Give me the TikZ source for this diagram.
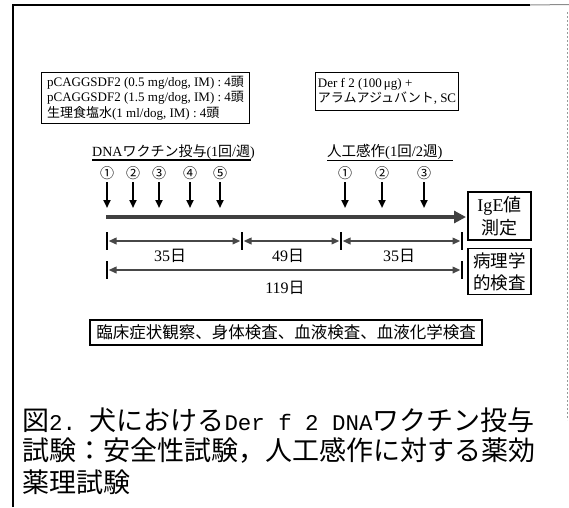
\documentclass[tikz,border=0pt]{standalone}
\usepackage{fontspec}
\setmainfont{Liberation Serif}
\newfontfamily\cjk{Noto Sans CJK JP}
\newfontfamily\capmono[Scale=0.83]{Liberation Mono}
\usetikzlibrary{arrows.meta}
\tikzset{
  box/.style={draw=black, line width=1.1pt, inner sep=2pt},
  lbl/.style={inner sep=0pt},
  darr/.style={line width=2.2pt, -{Triangle[length=8pt,width=7pt]}},
  bigarr/.style={line width=4.5pt, black!75, -{Triangle[length=12pt,width=12pt]}},
  spanarr/.style={line width=2pt, black!72, {Triangle[length=8pt,width=6.5pt]}-{Triangle[length=8pt,width=6.5pt]}, shorten <=1.5pt, shorten >=1.5pt},
  tickline/.style={line width=1.8pt, black},
  uline/.style={line width=1.4pt, black},
  circnum/.style={inner sep=1pt, font=\cjk\fontsize{14}{14}\selectfont},
  daylbl/.style={inner sep=0pt, font=\fontsize{16}{16}\selectfont},
}
\begin{document}
\begin{tikzpicture}[x=1pt,y=-1pt]
\useasboundingbox (0,0) rectangle (569,507);
% frame
\coordinate (fbl) at (13,507);
\coordinate (ftl) at (13,5);
\coordinate (ftr) at (530,5);
\coordinate (ftr2) at (569,4.5);
\coordinate (frt) at (567,12);
\coordinate (frb) at (567,420);
\draw[line width=1.6pt] (fbl) -- (ftl) -- (ftr);
\draw[line width=1pt, black!45] (ftr) -- (ftr2);
\draw[line width=1pt, black!40, dash pattern=on 2pt off 2pt] (frt) -- (frb);

% top boxes
\node[box, anchor=north west, minimum width=208pt, minimum height=51pt, align=left,
      inner sep=1pt, font=\fontsize{13}{15.5}\selectfont] (grp) at (41,72)
 {pCAGGSDF2 (0.5 mg/dog, IM) : 4{\cjk 頭}\\
  pCAGGSDF2 (1.5 mg/dog, IM) : 4{\cjk 頭}\\
  {\cjk 生理食塩水}(1 ml/dog, IM) : 4{\cjk 頭}};
\node[box, anchor=north west, minimum width=143pt, minimum height=38pt, align=left,
      inner sep=1pt, font=\fontsize{13}{15.5}\selectfont] (der) at (315,72)
 {Der f 2 (100\,μg) +\\
  {\cjk アラムアジュバント}, SC};

% section labels
\node[lbl, anchor=base west, font=\fontsize{14}{14}\selectfont] (dna) at (92,156)
 {DNA{\cjk ワクチン投与}(1{\cjk 回}/{\cjk 週})};
\coordinate (u1a) at (92,160);
\coordinate (u1b) at (251,160);
\draw[uline] (u1a) -- (u1b);
\node[lbl, anchor=base west, font=\fontsize{14.5}{14.5}\selectfont] (sens) at (327,156)
 {{\cjk 人工感作}(1{\cjk 回}/2{\cjk 週})};
\coordinate (u2a) at (327,160.5);
\coordinate (u2b) at (453,160.5);
\draw[uline] (u2a) -- (u2b);

% circled numbers and arrows
\node[circnum] (d1) at (107,173) {①};
\node[circnum] (d2) at (133,173) {②};
\node[circnum] (d3) at (159,173) {③};
\node[circnum] (d4) at (190,173) {④};
\node[circnum] (d5) at (220,173) {⑤};
\node[circnum] (s1) at (345,173) {①};
\node[circnum] (s2) at (382,173) {②};
\node[circnum] (s3) at (424,173) {③};
\foreach \n/\x in {d1/107,d2/133,d3/159,d4/190,d5/220,s1/345,s2/382,s3/424}{
  \coordinate (\n e) at (\x,208);
  \draw[darr] (\x,182) -- (\n e);
}

% main timeline
\coordinate (tls) at (106,217);
\coordinate (tle) at (466,217);
\draw[bigarr] (tls) -- (tle);

% result boxes
\node[box, minimum width=63pt, minimum height=48pt, align=center,
      font=\fontsize{18}{23}\selectfont] (ige) at (499.5,216)
 {Ig\kern0.3pt E{\cjk 値}\\{\cjk 測定}};
\node[box, minimum width=63pt, minimum height=46pt, align=center,
      font=\cjk\fontsize{17.5}{22}\selectfont] (path) at (499.5,271.5)
 {病理学\\的検査};

% span row 1
\coordinate (r0) at (107,241);
\coordinate (r1) at (242,241);
\coordinate (r2) at (341,241);
\coordinate (r3) at (462,241);
\foreach \c in {r0,r1,r2,r3}{
  \draw[tickline] (\c) ++(0,-9) -- ++(0,18);
}
\draw[spanarr] (r0) -- (r1);
\draw[spanarr] (r1) -- (r2);
\draw[spanarr] (r2) -- (r3);
\node[daylbl] (l1) at (170,256) {35{\cjk 日}};
\node[daylbl] (l2) at (288,256) {49{\cjk 日}};
\node[daylbl] (l3) at (399,256) {35{\cjk 日}};

% span row 2
\coordinate (q0) at (107,270);
\coordinate (q1) at (462,270);
\foreach \c in {q0,q1}{
  \draw[tickline] (\c) ++(0,-9) -- ++(0,18);
}
\draw[spanarr] (q0) -- (q1);
\node[daylbl] (l4) at (285,288) {119{\cjk 日}};

% observation box
\node[box, minimum width=392pt, minimum height=25pt, inner sep=1pt,
      font=\cjk\fontsize{16.5}{16.5}\selectfont] (obs) at (286,332.5)
 {臨床症状観察、身体検査、血液検査、血液化学検査};

% caption
\node[lbl, anchor=west, font=\fontsize{27}{27}\selectfont] (cap1) at (22,420)
 {{\cjk 図}{\capmono 2.\ }{\cjk 犬における}{\capmono Der f 2 DNA}{\cjk ワクチン投与}};
\node[lbl, anchor=west, font=\cjk\fontsize{27}{27}\selectfont] (cap2) at (22,451)
 {試験：安全性試験，人工感作に対する薬効};
\node[lbl, anchor=west, font=\cjk\fontsize{27}{27}\selectfont] (cap3) at (22,482)
 {薬理試験};
\end{tikzpicture}
\end{document}
